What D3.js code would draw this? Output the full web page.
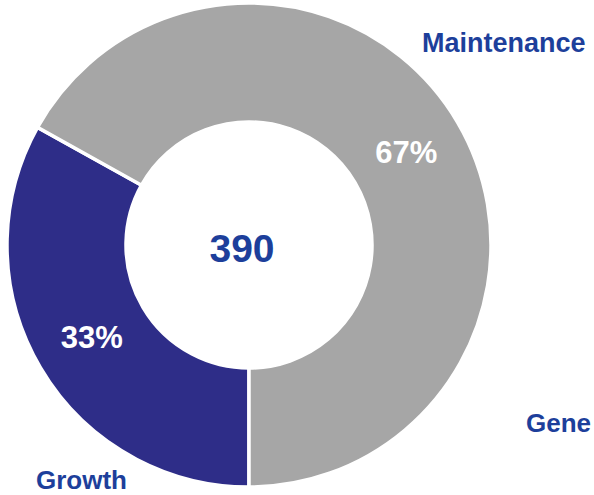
<!DOCTYPE html>
<html>
<head>
<meta charset="utf-8">
<script src="https://cdn.jsdelivr.net/npm/d3@7"></script>
<style>
html,body{margin:0;padding:0;background:#fff;}
svg{display:block;}
</style>
</head>
<body>
<svg id="chart" width="594" height="495"></svg>
<script>
const categories = ["Growth", "Maintenance"];
const values = [129, 261];
const totalLabel = "390";
const outerLabels = ["Maintenance", "Gene", "Growth"];
const colors = ["#2e2d88", "#a6a6a6"];

const svg = d3.select("#chart");
const cx = 249, cy = 245, rOuter = 242, rInner = 123;
const g = svg.append("g").attr("transform", `translate(${cx},${cy})`);

const data = categories.map((c, i) => ({cat: c, value: values[i], color: colors[i]}));
const total = d3.sum(values);
const pie = d3.pie().value(d => d.value).sort(null).startAngle(Math.PI).endAngle(3 * Math.PI);
const arc = d3.arc().innerRadius(rInner).outerRadius(rOuter);
const arcs = pie(data);

g.selectAll("path").data(arcs).join("path")
  .attr("d", arc)
  .attr("fill", d => d.data.color)
  .attr("stroke", "#fff")
  .attr("stroke-width", 3.5);

g.selectAll("text.pct").data(arcs).join("text")
  .attr("class", "pct")
  .attr("transform", d => `translate(${arc.centroid(d)})`)
  .attr("text-anchor", "middle")
  .attr("dominant-baseline", "central")
  .attr("font-family", "Liberation Sans, Arial, sans-serif")
  .attr("font-weight", "bold")
  .attr("font-size", 31)
  .attr("fill", "#fff")
  .text(d => Math.round(d.data.value / total * 100) + "%");

g.append("text")
  .attr("x", -7).attr("y", 3)
  .attr("text-anchor", "middle")
  .attr("dominant-baseline", "central")
  .attr("font-family", "Liberation Sans, Arial, sans-serif")
  .attr("font-weight", "bold")
  .attr("font-size", 39)
  .attr("fill", "#1d3f9b")
  .text(totalLabel);

const labelPos = [[422, 52], [526, 432], [36, 489]];
const labelSize = [27, 26, 26];
svg.selectAll("text.lbl").data(outerLabels).join("text")
  .attr("class", "lbl")
  .attr("x", (d, i) => labelPos[i][0])
  .attr("y", (d, i) => labelPos[i][1])
  .attr("font-family", "Liberation Sans, Arial, sans-serif")
  .attr("font-weight", "bold")
  .attr("font-size", (d, i) => labelSize[i])
  .attr("fill", "#1d3f9b")
  .text(d => d);
</script>
</body>
</html>
